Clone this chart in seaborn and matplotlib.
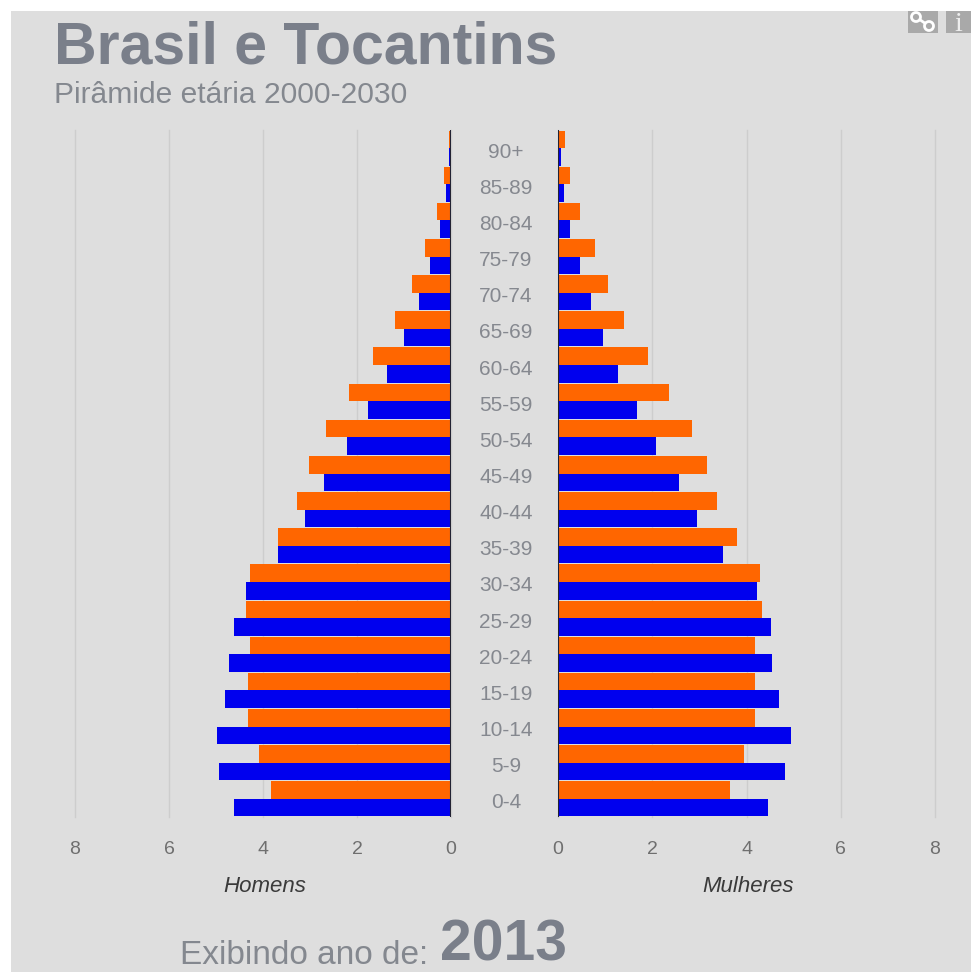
import matplotlib
matplotlib.use("Agg")
import matplotlib.pyplot as plt
from matplotlib.lines import Line2D
from matplotlib.patches import Rectangle, Circle
from matplotlib.transforms import ScaledTranslation
import pandas as pd
import seaborn as sns

# Idades, de cima para baixo
idades = ['90+', '85-89', '80-84', '75-79', '70-74', '65-69', '60-64', '55-59', '50-54', '45-49',
          '40-44', '35-39', '30-34', '25-29', '20-24', '15-19', '10-14', '5-9', '0-4']

homens_brasil = [0.05, 0.15, 0.30, 0.55, 0.83, 1.19, 1.66, 2.17, 2.66, 3.02,
                 3.28, 3.68, 4.28, 4.36, 4.28, 4.32, 4.32, 4.09, 3.83]
homens_tocantins = [0.05, 0.10, 0.23, 0.45, 0.68, 1.00, 1.36, 1.77, 2.21, 2.70,
                    3.10, 3.68, 4.36, 4.62, 4.72, 4.81, 4.98, 4.94, 4.62]
mulheres_brasil = [0.15, 0.25, 0.47, 0.79, 1.06, 1.40, 1.91, 2.36, 2.85, 3.17,
                   3.38, 3.79, 4.28, 4.32, 4.19, 4.19, 4.19, 3.94, 3.66]
mulheres_tocantins = [0.06, 0.12, 0.25, 0.47, 0.70, 0.96, 1.28, 1.68, 2.08, 2.57,
                      2.94, 3.51, 4.23, 4.51, 4.55, 4.68, 4.94, 4.81, 4.45]

x_ticks = [0, 2, 4, 6, 8]

W, H = 971, 972
BG = '#dedede'
GRAY = '#7a7f8a'

plt.rcParams['font.family'] = ['Liberation Sans', 'DejaVu Sans']


def monta_df(brasil, tocantins):
    return pd.DataFrame({
        'idade': idades * 2,
        'valor': brasil + tocantins,
        'regiao': ['Brasil'] * len(idades) + ['Tocantins'] * len(idades),
    })


def eixo(x0, x1, y0, y1):
    # posicao em pixels da imagem
    return fig.add_axes([x0 / W, 1 - y1 / H, (x1 - x0) / W, (y1 - y0) / H])


fig = plt.figure(figsize=(W / 100, H / 100), dpi=100, facecolor='white')
fig.patches.append(Rectangle((11 / W, 0), 1, 1 - 11 / H, transform=fig.transFigure,
                             facecolor=BG, edgecolor='none', zorder=-1))

ax_h = eixo(75, 451, 130, 817)
ax_m = eixo(558, 935, 130, 817)

cores = {'Brasil': '#ff6600', 'Tocantins': '#0000ee'}
for ax, df in [(ax_h, monta_df(homens_brasil, homens_tocantins)),
               (ax_m, monta_df(mulheres_brasil, mulheres_tocantins))]:
    sns.barplot(data=df, y='idade', x='valor', hue='regiao', order=idades, palette=cores,
                orient='h', width=0.97, saturation=1, legend=False, ax=ax, zorder=3)
    ax.set_facecolor('none')
    ax.set_xlabel('')
    ax.set_ylabel('')
    ax.set_ylim(18.5, -0.5)
    ax.set_xticks(x_ticks)
    ax.grid(axis='x', color='#cdcdcd', lw=1, zorder=0, clip_on=False)
    ax.grid(axis='y', visible=False)
    ax.axvline(0, color='#222233', lw=1.5, zorder=4)
    for s in ax.spines.values():
        s.set_visible(False)
    ax.tick_params(axis='x', length=0, pad=17, labelsize=14, labelcolor='#6f6f6f')
    ax.tick_params(axis='y', length=0)

ax_h.set_xlim(8, 0)
ax_m.set_xlim(0, 8)
ax_h.set_yticks([])

# rotulos de idade centralizados entre os dois lados
ax_m.set_yticks(range(len(idades)))
ax_m.set_yticklabels(idades, ha='center', color='#85888f', fontsize=15)
ax_m.tick_params(axis='y', pad=37.5)
desce = ScaledTranslation(0, -2 / 100, fig.dpi_scale_trans)
for lab in ax_m.get_yticklabels():
    lab.set_transform(lab.get_transform() + desce)


def texto(x, y, s, **kw):
    fig.text(x / W, 1 - y / H, s, va='baseline', **kw)


texto(54, 63, 'Brasil e Tocantins', fontsize=42.5, fontweight='bold', color=GRAY)
texto(54, 103, 'Pirâmide etária 2000-2030', fontsize=21.6, color='#84888f')
texto(265, 892, 'Homens', fontsize=16, style='italic', color='#3a3a3a', ha='center')
texto(748, 892, 'Mulheres', fontsize=16, style='italic', color='#3a3a3a', ha='center')
texto(180, 964, 'Exibindo ano de:', fontsize=24, color='#84888f')
texto(440, 960, '2013', fontsize=41, fontweight='bold', color=GRAY)

# icones do canto superior direito
for x0, x1 in [(908, 938), (946, 971)]:
    fig.patches.append(Rectangle((x0 / W, 1 - 33 / H), (x1 - x0) / W, 22 / H,
                                 transform=fig.transFigure, facecolor='#a9a9a9', edgecolor='none'))
# elo da corrente, em pixels de figura (origem embaixo)
fig.add_artist(Line2D([916, 929], [972 - 17, 972 - 26], transform=None, color='white', lw=2))
for cx, cy in [(916, 972 - 17), (929, 972 - 26)]:
    fig.patches.append(Circle((cx, cy), 4.5, transform=None, facecolor='#a9a9a9',
                              edgecolor='white', lw=2, zorder=3))
texto(958.5, 31, 'i', fontsize=20, family='Liberation Serif', color='#eeeeee', ha='center')

fig.savefig('out.png', dpi=100)
